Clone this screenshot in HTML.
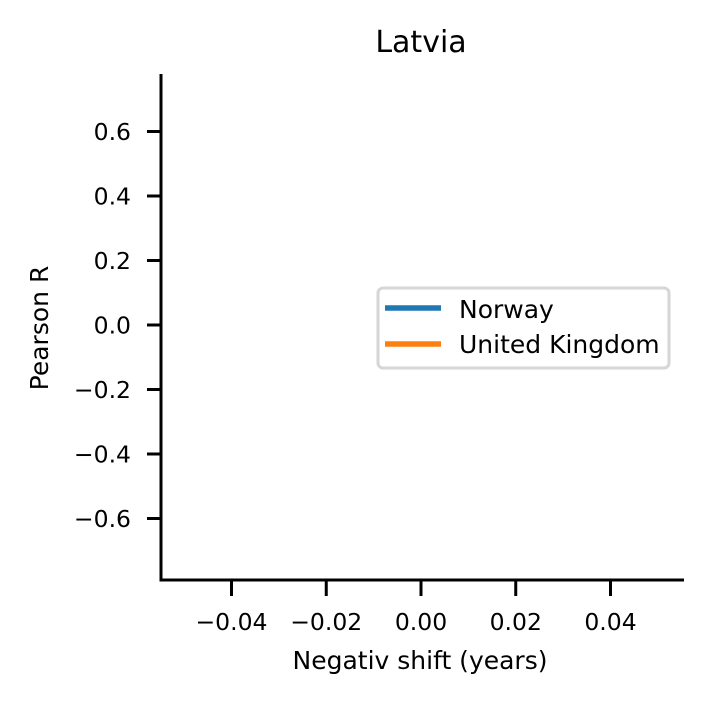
<!DOCTYPE html>
<html><head><meta charset="utf-8"><style>
html,body{margin:0;padding:0;background:#fff;}
svg{display:block;font-family:"DejaVu Sans","Liberation Sans",sans-serif;}
</style></head><body>
<svg id="chart" width="708" height="708" viewBox="0 0 708 708">
<text x="421" y="52" text-anchor="middle" font-size="30" fill="#000">Latvia</text>
<g id="yticks"></g>
<g id="xticks"></g>
<g id="series"></g>
<line x1="161" y1="74" x2="161" y2="581.5" stroke="#000" stroke-width="3"/>
<line x1="159.5" y1="580" x2="684" y2="580" stroke="#000" stroke-width="3"/>
<text x="0" y="0" transform="translate(48,328) rotate(-90)" text-anchor="middle" font-size="25">Pearson R</text>
<text x="420" y="669" text-anchor="middle" font-size="25">Negativ shift (years)</text>
<g>
<rect x="378" y="288" width="291" height="80" rx="5" fill="#fff" stroke="#d6d6d6" stroke-width="3"/>
<line x1="385" y1="308" x2="441" y2="308" stroke="#1f77b4" stroke-width="5.5"/>
<text x="459" y="318" font-size="25">Norway</text>
<line x1="385" y1="344" x2="441" y2="344" stroke="#ff7f0e" stroke-width="5.5"/>
<text x="459" y="353" font-size="25">United Kingdom</text>
</g>
</svg>
<script>
const yTicks=[0.6,0.4,0.2,0.0,-0.2,-0.4,-0.6];
const yLabels=["0.6","0.4","0.2","0.0","\u22120.2","\u22120.4","\u22120.6"];
const xTicks=[-0.04,-0.02,0,0.02,0.04];
const xLabels=["\u22120.04","\u22120.02","0.00","0.02","0.04"];
const shifts=[];
const norwayR=[];
const ukR=[];
const NS="http://www.w3.org/2000/svg";
function yS(v){return 325+(0-v)*322.5;}
function xS(v){return 421+v*4737.5;}
const yg=document.getElementById('yticks'),xg=document.getElementById('xticks'),sg=document.getElementById('series');
yTicks.forEach((v,i)=>{
 const l=document.createElementNS(NS,'line');
 l.setAttribute('x1',147);l.setAttribute('x2',161);l.setAttribute('y1',yS(v));l.setAttribute('y2',yS(v));l.setAttribute('stroke','#000');l.setAttribute('stroke-width','3');
 
 
 yg.appendChild(l);
 const t=document.createElementNS(NS,'text');
 t.setAttribute('x',131);t.setAttribute('y',yS(v)+8.5);t.setAttribute('text-anchor','end');t.setAttribute('font-size','23.5');t.textContent=yLabels[i];
 
 
 yg.appendChild(t);
});
xTicks.forEach((v,i)=>{
 const l=document.createElementNS(NS,'line');
 l.setAttribute('x1',xS(v));l.setAttribute('x2',xS(v));l.setAttribute('y1',580);l.setAttribute('y2',596);l.setAttribute('stroke','#000');l.setAttribute('stroke-width','3');
 
 
 xg.appendChild(l);
 const t=document.createElementNS(NS,'text');
 t.setAttribute('x',xS(v));t.setAttribute('y',630);t.setAttribute('text-anchor','middle');t.setAttribute('font-size','23.5');t.textContent=xLabels[i];
 
 
 xg.appendChild(t);
});
function drawLine(vals,color,name){
 if(!vals.length)return;
 const p=document.createElementNS(NS,'polyline');
 p.setAttribute('points',vals.map((v,i)=>xS(shifts[i])+','+yS(v)).join(' '));
 p.setAttribute('fill','none');p.setAttribute('stroke',color);p.setAttribute('stroke-width','3');
 
 
 sg.appendChild(p);
}
drawLine(norwayR,'#1f77b4','norway-line');
drawLine(ukR,'#ff7f0e','uk-line');
</script>
</body></html>
